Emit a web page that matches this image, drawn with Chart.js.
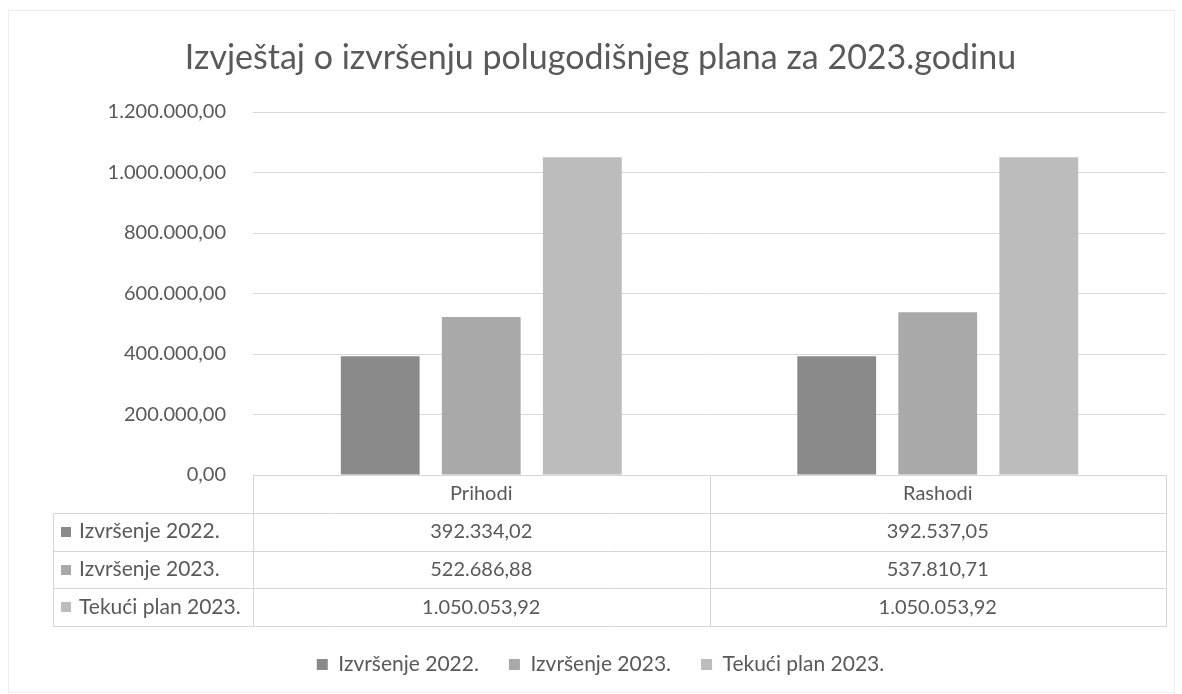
<!DOCTYPE html>
<html>
<head>
<meta charset="utf-8">
<script src="https://cdn.jsdelivr.net/npm/chart.js@4.4.1/dist/chart.umd.min.js"></script>
<style>
  html, body { margin: 0; padding: 0; background: #ffffff; }
  #wrap { width: 1182px; height: 694px; position: relative; }
</style>
</head>
<body>
<div id="wrap"><canvas id="c" width="1182" height="694"></canvas></div>
<script>
// ---- data ----
const chartTitle = 'Izvještaj o izvršenju polugodišnjeg plana za 2023.godinu';
const categories = ['Prihodi', 'Rashodi'];
const seriesNames = ['Izvršenje 2022.', 'Izvršenje 2023.', 'Tekući plan 2023.'];
const izvrsenje2022 = [392334.02, 392537.05];
const izvrsenje2023 = [522686.88, 537810.71];
const tekuciPlan2023 = [1050053.92, 1050053.92];
const yTickMax = 1200000;
const yTickStep = 200000;

// ---- styles ----
const FONT = 'Lato, "Open Sans", sans-serif';
const TEXT = '#595959';
const colors = ['#8a8a8a', '#a9a9a9', '#bcbcbc'];
const seriesValues = [izvrsenje2022, izvrsenje2023, tekuciPlan2023];

function fmt(v) {
  const neg = v < 0;
  v = Math.abs(v);
  const parts = v.toFixed(2).split('.');
  const intPart = parts[0].replace(/\B(?=(\d{3})+(?!\d))/g, '.');
  return (neg ? '-' : '') + intPart + ',' + parts[1];
}

const ROW_H = 37.8;
const TABLE_LEFT = 53;

const tablePlugin = {
  id: 'dataTable',
  afterDraw(chart) {
    const ctx = chart.ctx;
    const a = chart.chartArea;
    const xs = chart.scales.x;
    const x0 = TABLE_LEFT, x1 = a.left, x2 = a.right;
    const c0 = xs.getPixelForValue(0), c1 = xs.getPixelForValue(1);
    const xm = (c0 + c1) / 2;
    const top = a.bottom;
    const rows = [0, 1, 2, 3, 4].map(i => top + i * ROW_H);
    ctx.save();
    ctx.strokeStyle = '#d6d6d6';
    ctx.lineWidth = 1;
    ctx.beginPath();
    const h = (y, xa, xb) => { ctx.moveTo(xa, Math.round(y) + 0.5); ctx.lineTo(xb, Math.round(y) + 0.5); };
    const v = (x, ya, yb) => { ctx.moveTo(Math.round(x) + 0.5, Math.round(ya)); ctx.lineTo(Math.round(x) + 0.5, Math.round(yb) + 1); };
    h(rows[0], x1, x2);
    for (let i = 1; i < rows.length; i++) h(rows[i], x0, x2);
    v(x0, rows[1], rows[4]);
    v(x1, rows[0], rows[4]);
    v(xm, rows[0], rows[4]);
    v(x2, rows[0], rows[4]);
    ctx.stroke();

    ctx.fillStyle = TEXT;
    ctx.textBaseline = 'middle';
    ctx.textAlign = 'center';
    ctx.font = '20px ' + FONT;
    categories.forEach((c, i) => {
      ctx.fillText(c, xs.getPixelForValue(i), (rows[0] + rows[1]) / 2);
    });
    seriesNames.forEach((name, r) => {
      const yc = (rows[r + 1] + rows[r + 2]) / 2;
      ctx.fillStyle = colors[r];
      ctx.fillRect(61, Math.round(yc) - 5, 10, 10);
      ctx.fillStyle = TEXT;
      ctx.textAlign = 'left';
      ctx.font = '21px ' + FONT;
      ctx.fillText(name, 79, yc);
      ctx.textAlign = 'center';
      ctx.font = '20px ' + FONT;
      seriesValues[r].forEach((val, i) => {
        ctx.fillText(fmt(val), xs.getPixelForValue(i), yc);
      });
    });
    ctx.restore();
  }
};

const borderPlugin = {
  id: 'outerBorder',
  beforeDraw(chart) {
    const ctx = chart.ctx;
    ctx.save();
    ctx.fillStyle = '#ffffff';
    ctx.fillRect(0, 0, chart.width, chart.height);
    ctx.strokeStyle = '#ededed';
    ctx.lineWidth = 1;
    ctx.strokeRect(8.5, 10.5, chart.width - 16, chart.height - 12);
    ctx.restore();
  }
};

new Chart(document.getElementById('c'), {
  type: 'bar',
  data: {
    labels: categories,
    datasets: seriesNames.map((n, i) => ({
      label: n,
      data: seriesValues[i],
      backgroundColor: colors[i],
      borderWidth: 0,
      categoryPercentage: 0.664,
      barPercentage: 0.78
    }))
  },
  options: {
    responsive: false,
    animation: false,
    devicePixelRatio: 1,
    layout: { padding: { left: 35, right: 16, top: 0, bottom: 9 } },
    plugins: {
      title: {
        display: true,
        text: chartTitle,
        color: TEXT,
        font: { family: FONT, size: 34, weight: 'normal' },
        padding: { top: 37.6, bottom: 33.6 }
      },
      legend: {
        position: 'bottom',
        labels: {
          color: TEXT,
          font: { family: FONT, size: 21 },
          boxWidth: 11,
          boxHeight: 11,
          padding: 30
        }
      },
      tooltip: { enabled: false }
    },
    scales: {
      x: {
        grid: { display: false },
        border: { display: false },
        ticks: { display: false },
        afterFit(scale) { scale.height = 149; }
      },
      y: {
        min: 0,
        max: yTickMax,
        ticks: {
          stepSize: yTickStep,
          color: TEXT,
          font: { family: FONT, size: 20 },
          padding: 27,
          callback: (v) => fmt(v)
        },
        grid: { color: '#d9d9d9', drawTicks: false },
        border: { display: false },
        afterFit(scale) { scale.width = 218; }
      }
    }
  },
  plugins: [tablePlugin, borderPlugin]
});
</script>
</body>
</html>
